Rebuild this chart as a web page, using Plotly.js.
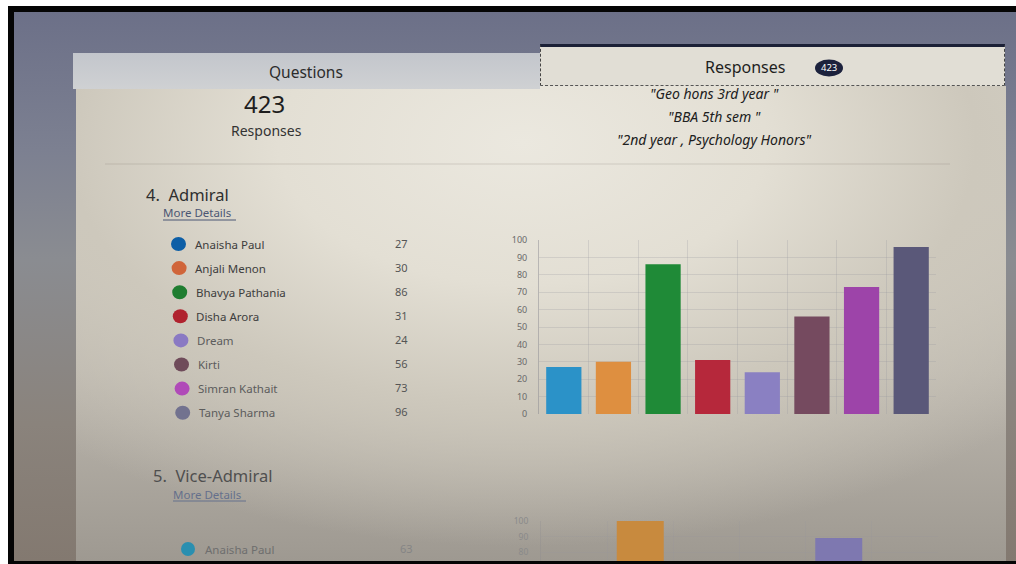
<!DOCTYPE html>
<html>
<head>
<meta charset="utf-8">
<script src="https://cdn.plot.ly/plotly-3.0.1.min.js"></script>
<style>
  html, body { margin:0; padding:0; background:#ffffff; }
  #wrap { position:relative; width:1016px; height:564px; overflow:hidden; background:#ffffff; }
  .bg { position:absolute; }
  #frame { left:8px; top:6px; width:1008px; height:558px; background:#050505; }
  #screen { left:14px; top:12px; width:1002px; height:549px;
    background: linear-gradient(180deg, #6c7088 0%, #7c8091 25%, #8a8c91 45%, #8a837c 75%, #837970 100%); }
  #page { left:76px; top:86px; width:930px; height:475px;
    background:
      radial-gradient(ellipse 75% 85% at 48% 12%, #ebe8df 0%, #e3dfd4 35%, #cdc8bc 65%, rgba(160,155,148,0) 100%),
      linear-gradient(180deg, #d9d5ca 0%, #bbb6ad 60%, #9e9991 100%); }
  #qtab { left:73px; top:53px; width:467px; height:36px;
    background: linear-gradient(180deg, #c3c6cc 0%, #cfd1d3 100%); }
  #rtab { left:540px; top:44px; width:465px; height:42px; background:#e1ded5;
    border-top:3px solid #1b2036; border-left:1px dashed #444; border-right:1px dashed #444; border-bottom:1px dashed #555; box-sizing:border-box; }
  #chart { position:absolute; left:0; top:0; width:1016px; height:564px; }
</style>
</head>
<body>
<div id="wrap">
  <div class="bg" id="frame"></div>
  <div class="bg" id="screen"></div>
  <div class="bg" id="page"></div>
  <div class="bg" id="qtab"></div>
  <div class="bg" id="rtab"></div>
  <div id="chart"></div>
</div>
<script>
// ---- Data: Question 4, Admiral ----
const admiralNames = ["Anaisha Paul", "Anjali Menon", "Bhavya Pathania", "Disha Arora", "Dream", "Kirti", "Simran Kathait", "Tanya Sharma"];
const admiralVotes = [27, 30, 86, 31, 24, 56, 73, 96];
const admiralBarColors = ["#2b92c8", "#de8f40", "#1f8a37", "#b6283b", "#8a80c2", "#754a5f", "#9d44a9", "#5a5879"];
const admiralDotColors = ["#0d5ea6", "#d0653a", "#1f7d30", "#b0222e", "#8a79c3", "#6f4b5a", "#b04ab8", "#72728f"];

// ---- Data: Question 5, Vice-Admiral (only partly visible) ----
const viceNames = ["Anaisha Paul", "Option 2", "Option 3", "Option 4", "Option 5", "Option 6"];
const viceVotes = [63, 100, 45, 55, 89, 40];
const viceBarColors = ["#2a8fb0", "#c88a3e", "#2f8a45", "#b03040", "#7e78b0", "#6e4a5c"];

// ---- Header texts ----
const totalResponses = "423";
const recentAnswers = ["\"Geo hons 3rd year \"", "\"BBA 5th sem \"", "\"2nd year , Psychology Honors\""];
const tickVals = [0, 10, 20, 30, 40, 50, 60, 70, 80, 90, 100];

// ---- Pixel helpers ----
const W = 1016, H = 564;
const X = p => p / W;
const Y = p => 1 - p / H;
const FONT = "Noto Sans, Open Sans, DejaVu Sans, sans-serif";

const traces = [
  {
    type: "bar", x: admiralNames, y: admiralVotes,
    marker: { color: admiralBarColors, line: { width: 0 } },
    xaxis: "x", yaxis: "y", hoverinfo: "x+y", showlegend: false
  },
  {
    type: "bar", x: viceNames, y: viceVotes,
    marker: { color: viceBarColors, line: { width: 0 } },
    xaxis: "x2", yaxis: "y2", hoverinfo: "x+y", showlegend: false
  }
];

const annotations = [];
const shapes = [];
function txt(x, y, text, size, color, anchor, extra) {
  annotations.push(Object.assign({
    xref: "paper", yref: "paper", x: X(x), y: Y(y), text: text, showarrow: false,
    xanchor: anchor || "left", yanchor: "middle", borderpad: 0,
    font: { family: FONT, size: size, color: color }
  }, extra || {}));
}

// Tabs
txt(306, 72, "Questions", 15.5, "#2c2c2c", "center");
txt(745, 67, "Responses", 16, "#1e1e1e", "center");
shapes.push({ type: "circle", xref: "paper", yref: "paper", x0: X(815), x1: X(843), y0: Y(59.5), y1: Y(76.5), fillcolor: "#1c223d", line: { width: 0 } });
txt(829, 68, totalResponses, 9.5, "#ffffff", "center");

// Summary
txt(264, 103, totalResponses, 24, "#1e1e1e", "center");
txt(266, 130, "Responses", 14, "#333333", "center");
recentAnswers.forEach((s, i) => {
  txt(714, 94 + i * 22.5, "<i>" + s + "</i>", 14, "#202020", "center");
});
shapes.push({ type: "line", xref: "paper", yref: "paper", x0: X(105), x1: X(950), y0: Y(164), y1: Y(164), line: { color: "rgba(120,115,105,0.22)", width: 1 } });

// Question 4 header
txt(145, 195, "4.  Admiral", 16.5, "#2e2e2e", "left");
txt(162, 213, "More Details", 11.5, "#4b5674", "left");
shapes.push({ type: "line", xref: "paper", yref: "paper", x0: X(163), x1: X(236), y0: Y(220), y1: Y(220), line: { color: "#4b5674", width: 1 } });

// Legend rows for Question 4
admiralNames.forEach((name, i) => {
  const cy = 244 + i * 24.1;
  const cx = 178.5 + i * 0.6;
  shapes.push({ type: "circle", xref: "paper", yref: "paper", x0: X(cx - 7.5), x1: X(cx + 7.5), y0: Y(cy + 7), y1: Y(cy - 7), fillcolor: admiralDotColors[i], line: { width: 0 } });
  txt(cx + 15, cy, name, 11.5, i < 4 ? "#3d3d3d" : "#5c5c5c", "left");
  txt(409, cy - 1, String(admiralVotes[i]), 11, "#555555", "right");
});

// Question 5 header
txt(152, 475, "5.  Vice-Admiral", 16.5, "#4f4f4f", "left");
txt(172, 494, "More Details", 11.5, "#65708c", "left");
shapes.push({ type: "line", xref: "paper", yref: "paper", x0: X(173), x1: X(246), y0: Y(501), y1: Y(501), line: { color: "#65708c", width: 1 } });
shapes.push({ type: "circle", xref: "paper", yref: "paper", x0: X(181), x1: X(195), y0: Y(556), y1: Y(542), fillcolor: viceBarColors[0], line: { width: 0 } });
txt(204, 549, viceNames[0], 11.5, "#6e6e6e", "left");
txt(414, 548, String(viceVotes[0]), 11, "#858585", "right");

// Black bottom frame strip (over the cut-off chart)
shapes.push({ type: "rect", xref: "paper", yref: "paper", x0: X(8), x1: X(1016), y0: 0, y1: Y(561), fillcolor: "#050505", line: { width: 0 }, layer: "above" });

const layout = {
  width: W, height: H, autosize: false,
  margin: { l: 0, r: 0, t: 0, b: 0, pad: 0 },
  paper_bgcolor: "rgba(0,0,0,0)", plot_bgcolor: "rgba(0,0,0,0)",
  bargap: 0.29,
  showlegend: false,
  font: { family: FONT },
  xaxis: {
    domain: [X(539), X(936)], anchor: "y", type: "category",
    range: [-0.5, admiralNames.length - 0.5],
    showticklabels: false, ticks: "", tickson: "boundaries",
    showgrid: true, gridcolor: "rgba(150,150,160,0.26)", gridwidth: 1,
    showline: false, zeroline: false, fixedrange: true
  },
  yaxis: {
    domain: [Y(414), Y(240)], anchor: "x",
    range: [0, 100], tickvals: tickVals,
    tickfont: { family: FONT, size: 9, color: "#6a6a6a" },
    ticks: "", ticklabelstandoff: 9,
    showgrid: true, gridcolor: "rgba(150,150,160,0.26)", gridwidth: 1,
    showline: true, linecolor: "rgba(130,130,140,0.45)", linewidth: 1,
    zeroline: false, fixedrange: true
  },
  xaxis2: {
    domain: [X(541), X(938)], anchor: "y2", type: "category",
    range: [-0.5, viceNames.length - 0.5],
    showticklabels: false, ticks: "", tickson: "boundaries",
    showgrid: true, gridcolor: "rgba(150,150,160,0.15)",
    showline: false, zeroline: false, fixedrange: true
  },
  yaxis2: {
    domain: [0, Y(521)], anchor: "x2",
    range: [72.3, 100], tickvals: tickVals,
    tickfont: { family: FONT, size: 8.5, color: "#8a8a8a" },
    ticks: "", ticklabelstandoff: 10,
    showgrid: true, gridcolor: "rgba(150,150,160,0.15)",
    showline: true, linecolor: "rgba(130,130,140,0.22)",
    zeroline: false, fixedrange: true
  },
  annotations: annotations,
  shapes: shapes
};

Plotly.newPlot("chart", traces, layout, { displayModeBar: false, staticPlot: true });
</script>
</body>
</html>
